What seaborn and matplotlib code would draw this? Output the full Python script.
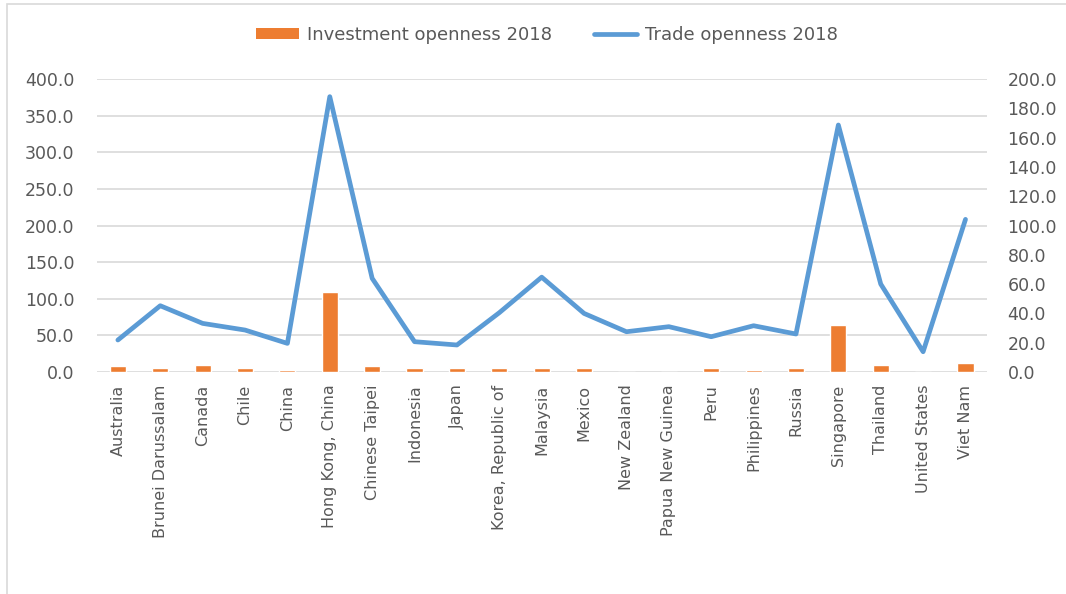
import matplotlib
matplotlib.use("Agg")
import matplotlib.pyplot as plt
from matplotlib.patches import Rectangle
from matplotlib.lines import Line2D
from matplotlib.patches import Patch
import pandas as pd
import seaborn as sns

economies = [
    "Australia", "Brunei Darussalam", "Canada", "Chile", "China",
    "Hong Kong, China", "Chinese Taipei", "Indonesia", "Japan",
    "Korea, Republic of", "Malaysia", "Mexico", "New Zealand",
    "Papua New Guinea", "Peru", "Philippines", "Russia", "Singapore",
    "Thailand", "United States", "Viet Nam",
]
# Investment openness 2018 (right axis)
investment_openness = [3.9, 2.5, 5.0, 2.5, 1.4, 54.6, 3.9, 2.5, 2.5, 2.5,
                       2.5, 2.5, 0.0, 0.0, 2.5, 1.4, 2.5, 31.9, 5.0, 0.0, 6.1]
# Trade openness 2018 (left axis)
trade_openness = [43.7, 90.5, 66.4, 57.3, 39.1, 375.9, 127.9, 41.4, 36.9, 81.0,
                  129.5, 80.0, 55.0, 61.9, 48.2, 63.2, 51.9, 337.2, 120.1, 27.7, 208.4]

left_ticks = [0, 50, 100, 150, 200, 250, 300, 350, 400]
right_ticks = [0, 20, 40, 60, 80, 100, 120, 140, 160, 180, 200]

df = pd.DataFrame({
    "economy": economies,
    "investment": investment_openness,
    "trade": trade_openness,
})

sns.set_theme(style="white")
plt.rcParams["font.family"] = ["DejaVu Sans"]

BAR = "#ED7D31"
LINE = "#5B9BD5"
TXT = "#595959"
GRID = "#D9D9D9"

fig = plt.figure(figsize=(10.66, 5.94), dpi=100)
ax = fig.add_axes([0.0907, 0.3737, 0.8349, 0.4933])
ax2 = ax.twinx()

# frame around the chart area
fig.patches.append(Rectangle((7 / 1066, -0.1), 1.2, 1 - 4 / 594 + 0.1,
                             transform=fig.transFigure, fill=False,
                             edgecolor="#D9D9D9", linewidth=1.2, zorder=0))

sns.lineplot(data=df, x="economy", y="trade", ax=ax, color=LINE,
             linewidth=3.4, sort=False, zorder=3)
sns.barplot(data=df, x="economy", y="investment", ax=ax2, color=BAR,
            width=0.38, saturation=1, zorder=2)

ax.set_xlim(-0.5, len(economies) - 0.5)
ax.set_ylim(0, 400)
ax2.set_ylim(0, 200)
ax.set_yticks(left_ticks)
ax.set_yticklabels([f"{v:.1f}" for v in left_ticks])
ax2.set_yticks(right_ticks)
ax2.set_yticklabels([f"{v:.1f}" for v in right_ticks])

ax.yaxis.grid(True, color=GRID, linewidth=1.2)
ax.set_axisbelow(True)
ax2.grid(False)

for a in (ax, ax2):
    for s in a.spines.values():
        s.set_visible(False)
    a.set_xlabel("")
    a.set_ylabel("")
    a.tick_params(length=0, colors=TXT, labelsize=12.5)

ax.tick_params(axis="y", pad=16)
ax2.tick_params(axis="y", pad=15)
ax.set_xticks(range(len(economies)))
ax.set_xticklabels(economies, rotation=90, color=TXT, fontsize=11.5)
ax.tick_params(axis="x", pad=9)
ax2.tick_params(axis="x", labelbottom=False)

handles = [Patch(facecolor=BAR, edgecolor="none"),
           Line2D([0], [0], color=LINE, linewidth=3.4)]
fig.legend(handles, ["Investment openness 2018", "Trade openness 2018"],
           loc="center", bbox_to_anchor=(0.513, 0.941), ncol=2, frameon=False,
           fontsize=13, labelcolor=TXT, handlelength=2.4, handleheight=0.6,
           columnspacing=2.3, handletextpad=0.45)

fig.savefig("out.png", dpi=100, facecolor="white")
